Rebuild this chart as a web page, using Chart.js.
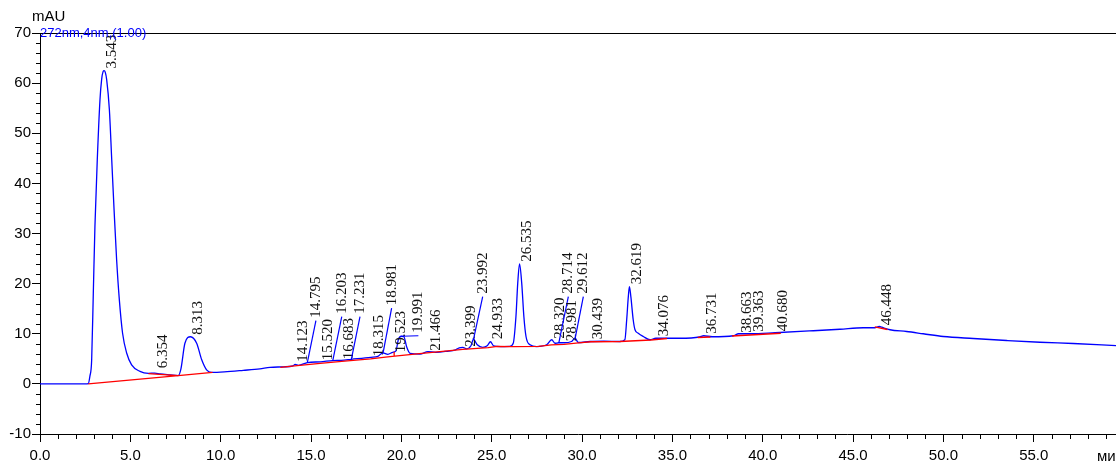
<!DOCTYPE html>
<html><head><meta charset="utf-8">
<script src="https://cdn.jsdelivr.net/npm/chart.js@4/dist/chart.umd.min.js"></script>
<style>html,body{margin:0;padding:0;background:#fff;overflow:hidden}#wrap{width:1116px;height:462px}</style>
</head><body><div id="wrap"><canvas id="c" width="1116" height="462"></canvas></div>
<script>
// chromatogram signal: [time (min), absorbance (mAU)]
const signal = [[0,0],[2.5,0],[2.67,0.05],[2.76,1.5],[2.86,4.8],[2.95,18.1],[3.04,31.4],[3.17,44.7],[3.32,56.7],[3.41,60.7],[3.49,62.3],[3.55,62.5],[3.61,62.2],[3.69,60.7],[3.84,54.7],[3.97,44.7],[4.10,34.7],[4.24,24.8],[4.39,16.8],[4.57,10.1],[4.80,6.1],[5.07,3.8],[5.53,2.5],[6.00,2.1],[6.35,2.15],[6.64,2.0],[7.20,1.8],[7.65,1.65],[7.80,3.0],[8.02,8.1],[8.33,9.4],[8.67,8.1],[8.95,4.8],[9.22,2.8],[9.50,2.3],[10.20,2.4],[11.25,2.7],[12.17,3.0],[12.73,3.3],[13.50,3.4],[14.00,3.6],[14.12,3.9],[14.30,3.7],[14.80,4.25],[15.52,4.4],[16.20,4.65],[16.68,4.7],[17.23,4.9],[18.31,5.3],[18.70,5.5],[18.98,6.2],[19.25,5.9],[19.52,6.3],[19.70,6.6],[19.83,8.8],[19.99,9.5],[20.14,9.4],[20.29,7.4],[20.48,6.1],[21.03,5.95],[21.47,6.45],[21.90,6.3],[22.50,6.5],[23.00,6.8],[23.20,7.2],[23.40,7.3],[23.60,7.0],[23.85,7.6],[23.99,8.9],[24.20,7.8],[24.50,7.3],[24.75,7.6],[24.93,8.4],[25.10,7.6],[25.50,7.45],[26.00,7.5],[26.19,8.1],[26.34,13.4],[26.44,20.1],[26.54,23.95],[26.66,20.1],[26.78,13.4],[26.90,9.4],[27.12,7.8],[27.49,7.45],[28.04,7.8],[28.32,8.8],[28.50,8.1],[28.71,8.2],[28.98,8.2],[29.42,8.45],[29.61,9.1],[29.79,8.25],[30.44,8.45],[31.20,8.5],[32.10,8.45],[32.37,8.8],[32.47,12.8],[32.56,17.4],[32.62,19.4],[32.70,17.4],[32.83,12.8],[32.93,10.8],[33.11,10.1],[33.39,9.45],[33.76,8.8],[34.08,9.1],[34.68,9.1],[35.42,9.1],[36.50,9.35],[36.73,9.6],[37.20,9.4],[38.37,9.6],[38.66,10.0],[39.36,10.0],[40.68,10.2],[42.80,10.6],[44.27,10.9],[45.56,11.2],[46.20,11.2],[46.45,11.45],[46.58,11.3],[47.04,10.8],[47.96,10.45],[48.88,10.0],[49.99,9.45],[51.65,9.05],[53.50,8.65],[55.34,8.3],[57.18,8.05],[59.55,7.65]];

// integration baselines (null = break between segments)
const baseline = [[2.67,0],[7.65,1.65],null,[6.0,2.05],[7.65,1.65],[9.55,2.3],null,[13.3,3.3],[14.1,3.6],[15.5,4.1],[16.7,4.5],[18.3,5.0],[19.0,5.3],[19.5,5.5],[21.0,6.05],[23.4,6.9],[24.0,7.05],[24.8,7.25],[25.3,7.5],[26.2,7.45],[27.6,7.5],[28.3,7.8],[29.0,7.9],[29.8,8.2],[30.5,8.4],[32.1,8.45],[33.8,8.75],[34.7,9.05],null,[19.6,5.55],[19.6,6.4],null,[36.4,9.25],[37.1,9.35],null,[38.3,9.55],[41.0,10.1],null,[46.2,11.35],[46.9,10.85]];

// peak labels
const peakNames = ['3.543','6.354','8.313','14.123','14.795','15.520','16.203','16.683','17.231','18.315','18.981','19.523','19.991','21.466','23.399','23.992','24.933','26.535','28.320','28.714','28.981','29.612','30.439','32.619','34.076','36.731','38.663','39.363','40.680','46.448'];
const peakTimes = [3.543,6.354,8.313,14.123,14.795,15.520,16.203,16.683,17.231,18.315,18.981,19.523,19.991,21.466,23.399,23.992,24.933,26.535,28.320,28.714,28.981,29.612,30.439,32.619,34.076,36.731,38.663,39.363,40.680,46.448];
const peakHeights = [62.5,2.7,9.4,4.0,4.25,4.3,4.65,4.5,4.9,5.1,6.1,5.9,9.5,6.2,7.0,8.9,8.5,23.95,8.6,8.2,8.1,9.0,8.5,19.5,9.1,9.6,9.8,10.0,10.1,11.3];

// label leader lines: peak index -> [time, mAU] of label foot
const leaders = {4:[15.27,12.6],6:[16.70,13.4],8:[17.71,13.4],10:[19.46,15.1],12:[20.94,9.6],15:[24.50,17.4],19:[29.24,17.4],21:[30.07,17.4]};

const xTicksMajor = 5, xTicksMinor = 1, yTicksMajor = 10, yTicksMinor = 2;

const toXY = arr => { const out=[]; let px=0; for (const p of arr){ if(p===null){out.push({x:px,y:null});} else {out.push({x:p[0],y:p[1]}); px=p[0];} } return out; };

const overlay = {
  id:'overlay',
  afterDraw(chart){
    const {ctx, chartArea:a, scales:{x,y}} = chart;
    ctx.save();
    // top frame
    ctx.strokeStyle='#000'; ctx.lineWidth=1;
    ctx.beginPath(); ctx.moveTo(a.left, a.top+0.5); ctx.lineTo(a.right, a.top+0.5); ctx.stroke();
    // minor ticks
    ctx.beginPath();
    for (let v=x.min; v<=x.max; v+=xTicksMinor){ if (Math.abs(v%xTicksMajor)<1e-6) continue; const px=Math.round(x.getPixelForValue(v))+0.5; ctx.moveTo(px,a.bottom); ctx.lineTo(px,a.bottom+5); }
    for (let v=y.min; v<=y.max; v+=yTicksMinor){ if (Math.abs(v%yTicksMajor)<1e-6) continue; const py=Math.round(y.getPixelForValue(v))+0.5; ctx.moveTo(a.left,py); ctx.lineTo(a.left-4,py); }
    ctx.stroke();
    // peak labels
    ctx.font = '15px "Liberation Serif", "Times New Roman", serif';
    ctx.fillStyle = '#111';
    ctx.textAlign='left'; ctx.textBaseline='middle';
    peakNames.forEach((name,i)=>{
      const px = x.getPixelForValue(peakTimes[i]);
      const py = y.getPixelForValue(peakHeights[i]);
      let cx, by;
      if (leaders[i]){
        const ex = x.getPixelForValue(leaders[i][0]);
        const ey = y.getPixelForValue(leaders[i][1]);
        ctx.strokeStyle='#0000ff'; ctx.lineWidth=1.2;
        ctx.beginPath(); ctx.moveTo(px,py); ctx.lineTo(ex,ey); ctx.stroke();
        cx = ex; by = ey-3;
      } else { cx = px+8; by = py-2; }
      ctx.save(); ctx.translate(cx,by); ctx.rotate(-Math.PI/2); ctx.fillText(name,0,0); ctx.restore();
    });
    // texts
    ctx.font = '15px "Liberation Sans", Arial, sans-serif';
    ctx.fillStyle='#000'; ctx.textBaseline='alphabetic';
    ctx.fillText('mAU', 32, 21);
    ctx.fillText('ми', 1097, 461);
    ctx.font = '13px "Liberation Sans", Arial, sans-serif';
    ctx.fillStyle='#0000ff'; ctx.textBaseline='middle';
    ctx.fillText('272nm,4nm,(1.00)', a.left, a.top);
    ctx.restore();
  }
};

new Chart(document.getElementById('c'), {
  type:'line',
  data:{ datasets:[
    { data: toXY(baseline), borderColor:'#ff0000', borderWidth:1.3, pointRadius:0, spanGaps:false, tension:0, fill:false },
    { data: toXY(signal), borderColor:'#0000ff', borderWidth:1.3, pointRadius:0, cubicInterpolationMode:'monotone', fill:false }
  ]},
  options:{
    responsive:false, animation:false, devicePixelRatio:1,
    layout:{ padding:{ top:33, right:0, left:0, bottom:0 } },
    plugins:{ legend:{display:false}, tooltip:{enabled:false} },
    scales:{
      x:{ type:'linear', min:0, max:59.55,
        afterFit: s => { s.height = 28; },
        border:{ display:true, color:'#000', width:1 },
        grid:{ drawOnChartArea:false, drawTicks:true, tickLength:8, tickColor:'#000' },
        ticks:{ stepSize:xTicksMajor, includeBounds:false, maxRotation:0, autoSkip:false, padding:5, color:'#000',
          font:{ family:'"Liberation Sans", Arial, sans-serif', size:15 }, callback: v => v.toFixed(1) } },
      y:{ type:'linear', min:-10, max:70,
        afterFit: s => { s.width = 40; },
        border:{ display:true, color:'#000', width:1 },
        grid:{ drawOnChartArea:false, drawTicks:true, tickLength:8, tickColor:'#000' },
        ticks:{ stepSize:yTicksMajor, padding:1, color:'#000',
          font:{ family:'"Liberation Sans", Arial, sans-serif', size:15 } } }
    }
  },
  plugins:[overlay]
});
</script></body></html>
